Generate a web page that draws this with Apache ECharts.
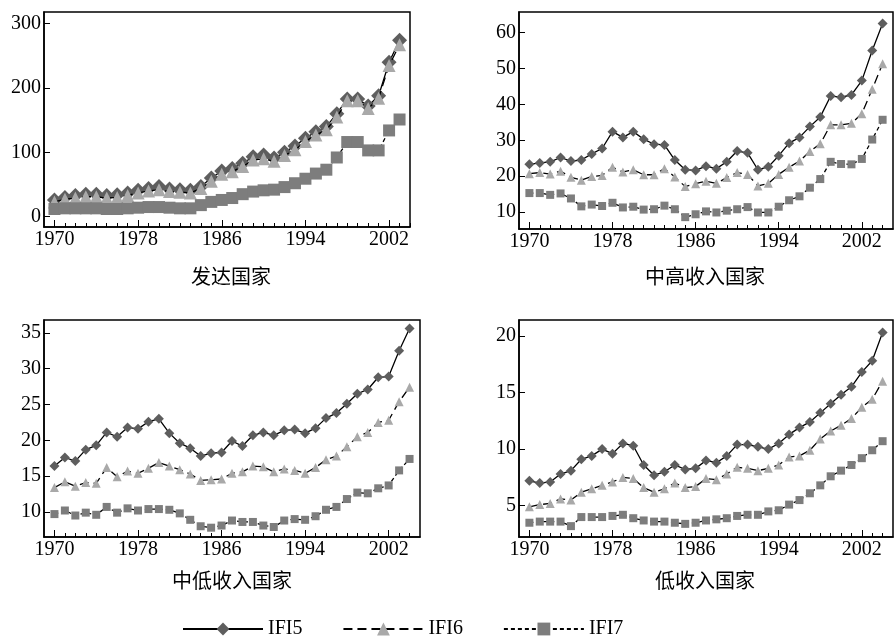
<!DOCTYPE html>
<html>
<head>
<meta charset="utf-8">
<script src="https://cdn.jsdelivr.net/npm/echarts@6/dist/echarts.min.js"></script>
<style>
  html, body { margin: 0; padding: 0; background: #fff; }
  #chart { width: 894px; height: 641px; }
</style>
</head>
<body>
<div id="chart"></div>
<script>
// Years covered by the series
const years = [1970, 1971, 1972, 1973, 1974, 1975, 1976, 1977, 1978, 1979,
  1980, 1981, 1982, 1983, 1984, 1985, 1986, 1987, 1988, 1989,
  1990, 1991, 1992, 1993, 1994, 1995, 1996, 1997, 1998, 1999,
  2000, 2001, 2002, 2003, 2004];
const yearLabels = [1970, 1978, 1986, 1994, 2002];

// 发达国家 (1970-2003)
const devIFI5 = [26, 30, 33, 35, 35, 33, 34, 37, 41, 44, 47, 43, 42, 41, 47, 60, 71, 75, 83, 93,
  96, 91, 100, 110, 122, 132, 140, 160, 183, 183, 172, 188, 240, 274];
const devIFI6 = [23, 27, 29, 31, 31, 29, 30, 33, 37, 40, 42, 39, 38, 37, 44, 55, 66, 70, 78, 88,
  90, 86, 95, 104, 117, 127, 135, 155, 180, 180, 168, 184, 235, 267];
const devIFI7 = [12, 13, 13, 13, 13, 12, 12, 13, 14, 15, 15, 14, 13, 13, 18, 23, 26, 29, 35, 39,
  41, 42, 46, 52, 59, 67, 73, 92, 116, 116, 103, 103, 134, 151];

// 中高收入国家
const umIFI5 = [23.3, 23.7, 24.0, 25.2, 24.2, 24.5, 26.2, 27.7, 32.4, 30.8, 32.4, 30.3, 28.9, 28.7, 24.5,
  21.8, 21.6, 22.8, 22.1, 24.0, 27.0, 26.5, 21.8, 22.6, 25.7, 29.2, 30.8, 33.8, 36.5, 42.3,
  42.0, 42.6, 46.6, 55.0, 62.5];
const umIFI6 = [20.7, 21.0, 20.6, 21.4, 19.7, 18.9, 19.9, 20.2, 22.5, 21.2, 21.8, 20.4, 20.4, 22.1, 19.8,
  17.1, 17.9, 18.6, 18.0, 19.6, 21.0, 20.5, 17.3, 18.0, 20.5, 22.5, 24.2, 26.9, 29.0, 34.3,
  34.3, 34.7, 37.4, 44.2, 51.3];
const umIFI7 = [15.3, 15.3, 14.8, 15.2, 13.8, 11.6, 12.1, 11.7, 12.6, 11.3, 11.5, 10.7, 10.8, 11.8, 10.8,
  8.6, 9.4, 10.2, 9.9, 10.4, 10.8, 11.4, 9.9, 9.9, 11.5, 13.3, 14.4, 16.8, 19.2, 24.0,
  23.4, 23.3, 24.8, 30.2, 35.7];

// 中低收入国家
const lmIFI5 = [16.4, 17.6, 17.1, 18.7, 19.3, 21.1, 20.5, 21.8, 21.6, 22.6, 23.0, 21.0, 19.6, 18.9, 17.8,
  18.2, 18.3, 19.9, 19.2, 20.7, 21.1, 20.7, 21.4, 21.5, 21.0, 21.7, 23.1, 23.8, 25.1, 26.5,
  27.1, 28.8, 28.9, 32.5, 35.6];
const lmIFI6 = [13.4, 14.2, 13.6, 14.1, 14.0, 16.2, 14.9, 15.7, 15.4, 16.1, 16.9, 16.4, 15.9, 15.3, 14.4,
  14.5, 14.6, 15.4, 15.6, 16.4, 16.3, 15.6, 16.0, 15.8, 15.4, 16.2, 17.3, 17.8, 19.1, 20.5,
  21.1, 22.5, 22.8, 25.4, 27.4];
const lmIFI7 = [9.7, 10.2, 9.5, 9.9, 9.6, 10.7, 9.9, 10.5, 10.2, 10.4, 10.4, 10.3, 9.8, 8.9, 8.0,
  7.8, 8.1, 8.8, 8.6, 8.6, 8.1, 7.9, 8.8, 9.0, 8.9, 9.4, 10.3, 10.7, 11.8, 12.7,
  12.6, 13.3, 13.7, 15.8, 17.4];

// 低收入国家
const lowIFI5 = [7.2, 7.0, 7.1, 7.8, 8.1, 9.1, 9.4, 10.0, 9.6, 10.5, 10.3, 8.6, 7.7, 8.0, 8.6,
  8.2, 8.3, 9.0, 8.8, 9.4, 10.4, 10.4, 10.2, 10.0, 10.5, 11.3, 11.9, 12.4, 13.2, 14.0,
  14.8, 15.5, 16.8, 17.8, 20.3];
const lowIFI6 = [4.9, 5.1, 5.2, 5.6, 5.5, 6.2, 6.5, 6.8, 7.1, 7.5, 7.4, 6.6, 6.2, 6.5, 7.0,
  6.6, 6.7, 7.4, 7.3, 7.8, 8.4, 8.3, 8.1, 8.3, 8.6, 9.3, 9.4, 9.9, 10.9, 11.6,
  12.1, 12.7, 13.7, 14.4, 16.0];
const lowIFI7 = [3.5, 3.6, 3.6, 3.6, 3.2, 4.0, 4.0, 4.0, 4.1, 4.2, 3.9, 3.7, 3.6, 3.6, 3.5,
  3.4, 3.5, 3.7, 3.8, 3.9, 4.1, 4.2, 4.2, 4.5, 4.6, 5.1, 5.5, 6.1, 6.8, 7.6,
  8.1, 8.6, 9.2, 9.9, 10.7];

// Panel titles and y tick labels
const panelTitles = ['发达国家', '中高收入国家', '中低收入国家', '低收入国家'];
const devTicks = [0, 100, 200, 300];
const umTicks = [10, 20, 30, 40, 50, 60];
const lmTicks = [10, 15, 20, 25, 30, 35];
const lowTicks = [5, 10, 15, 20];

const seriesNames = ['IFI5', 'IFI6', 'IFI7'];

const SERIF = 'Liberation Serif';
const CJK = 'Noto Sans CJK SC';

// Panel frames: grid box and axis ranges
const panels = [
  { grid: { left: 44, top: 12, width: 366, height: 215 }, xMax: 2004, yMin: -16, yMax: 318,
    ticks: devTicks, data: [devIFI5, devIFI6, devIFI7], sizes: [15, 13, 12], title: [226, 261] },
  { grid: { left: 519, top: 12, width: 374, height: 217 }, xMax: 2005, yMin: 5.3, yMax: 65.7,
    ticks: umTicks, data: [umIFI5, umIFI6, umIFI7], sizes: [10, 9, 8], title: [700, 261] },
  { grid: { left: 44, top: 320, width: 376, height: 217 }, xMax: 2005, yMin: 6.5, yMax: 36.8,
    ticks: lmTicks, data: [lmIFI5, lmIFI6, lmIFI7], sizes: [10, 9, 8], title: [227, 565] },
  { grid: { left: 519, top: 320, width: 374, height: 217 }, xMax: 2005, yMin: 2.24, yMax: 21.4,
    ticks: lowTicks, data: [lowIFI5, lowIFI6, lowIFI7], sizes: [10, 9, 8], title: [700, 565] }
];

const markerShapes = ['diamond', 'triangle', 'rect'];
const markerColors = ['#5e5e5e', '#a9a9a9', '#7d7d7d'];
const lineTypes = ['solid', [9, 5], [4, 3]];

const grids = [], xAxes = [], yAxes = [], series = [], titles = [];

panels.forEach((p, gi) => {
  grids.push(Object.assign({ show: true, borderColor: '#000', borderWidth: 1.5, backgroundColor: 'transparent' }, p.grid));

  // main x axis: labelled years with longer ticks
  xAxes.push({
    type: 'value', gridIndex: gi, min: 1969, max: p.xMax, position: 'bottom',
    axisLine: { show: true, onZero: false, lineStyle: { color: '#000', width: 1.5 } },
    axisTick: { show: true, inside: true, length: 7, customValues: yearLabels, lineStyle: { color: '#000', width: 1 } },
    axisLabel: { customValues: yearLabels, formatter: v => String(v), color: '#000', fontFamily: SERIF, fontSize: 20, margin: 3 },
    splitLine: { show: false }
  });
  yAxes.push({
    type: 'value', gridIndex: gi, min: p.yMin, max: p.yMax,
    axisLine: { show: true, onZero: false, lineStyle: { color: '#000', width: 1.5 } },
    axisTick: { show: true, inside: true, length: 6, customValues: p.ticks, lineStyle: { color: '#000', width: 1 } },
    axisLabel: { customValues: p.ticks, formatter: v => String(v), color: '#000', fontFamily: SERIF, fontSize: 20, margin: 3 },
    splitLine: { show: false }
  });

  const xi = xAxes.length - 1, yi = yAxes.length - 1;

  // yearly minor ticks along the bottom
  xAxes.push({
    type: 'value', gridIndex: gi, min: 1969, max: p.xMax, position: 'bottom',
    axisLine: { show: false, onZero: false },
    axisTick: { show: true, inside: true, length: 4, customValues: years.slice(0, p.xMax - 1969), lineStyle: { color: '#000', width: 1 } },
    axisLabel: { show: false },
    splitLine: { show: false }
  });

  p.data.forEach((vals, si) => {
    series.push({
      name: seriesNames[si], type: 'line', xAxisIndex: xi, yAxisIndex: yi,
      data: vals.map((v, i) => [years[i], v]),
      symbol: markerShapes[si], symbolSize: p.sizes[si],
      itemStyle: { color: markerColors[si] },
      lineStyle: { color: '#000', width: 1.3, type: lineTypes[si] },
      animation: false, z: 2 + si
    });
  });

  titles.push({
    text: panelTitles[gi], left: p.title[0], top: p.title[1], textAlign: 'center',
    textStyle: { fontFamily: CJK, fontSize: 20, fontWeight: 'normal', color: '#000' }
  });
});

const chart = echarts.init(document.getElementById('chart'), null, { renderer: 'canvas' });
chart.setOption({
  backgroundColor: '#fff',
  animation: false,
  title: titles,
  grid: grids,
  xAxis: xAxes,
  yAxis: yAxes,
  legend: {
    data: seriesNames, left: 177, top: 614, itemWidth: 80, itemHeight: 16, itemGap: 40,
    textStyle: { fontFamily: SERIF, fontSize: 20, color: '#000' }
  },
  series: series
});
</script>
</body>
</html>
